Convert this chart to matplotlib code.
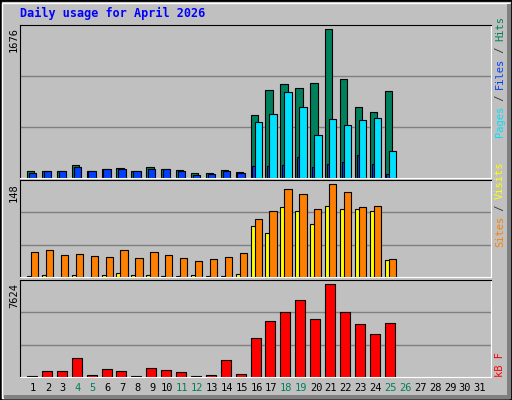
import matplotlib
matplotlib.use("Agg")
import matplotlib.pyplot as plt
from matplotlib.patches import Rectangle

days = list(range(1, 32))
hits  = [76,76,76,144,76,99,110,76,121,99,87,53,53,87,64,713,997,1054,1009,1066,1676,1111,804,747,975]
files = [61,76,76,129,76,99,99,76,106,99,83,38,46,83,53,133,133,144,235,121,155,178,258,155,42]
pages = [0]*15 + [629,720,971,800,482,664,595,652,675,300]
visits = [40,43,35,37,34,32,43,31,40,35,31,26,29,32,39,93,105,140,132,109,148,135,111,114,29]
sites  = [1.6,3,0,3,0,3,6,3,3,1.6,1.6,3,1.6,1.6,5,82,71,111,106,85,114,108,109,106,27]
kbytes = [111,529,529,1531,195,696,529,111,779,612,445,111,195,1364,278,3200,4620,5371,6373,4787,7624,5371,4369,3534,4453]
weekend = [4,5,11,12,18,19,25,26]
title = "Daily usage for April 2026"

W, H = 512, 400
fig = plt.figure(figsize=(W/100, H/100), dpi=100, facecolor="#C0C0C0")
mono = "DejaVu Sans Mono"

# outer bevel
fig.add_artist(Rectangle((0, 0), 1, 1, transform=fig.transFigure, fill=False, ec="black", lw=2))
fig.add_artist(Rectangle((2/W, 2/H), 1-5/W, 1-5/H, transform=fig.transFigure, fill=False, ec="white", lw=1))
fig.add_artist(Rectangle((4/W, 1/H), 1-5/W, 4/H, transform=fig.transFigure, color="#808080", lw=0))
fig.add_artist(Rectangle((1-5/W, 1/H), 4/W, 1-5/H, transform=fig.transFigure, color="#808080", lw=0))

def mkax(top, bot, ymax):
    ax = fig.add_axes([20/W, 1-bot/H, 471/W, (bot-top)/H])
    ax.set_facecolor("#C0C0C0")
    ax.set_xlim(0.128, 31.74)
    ax.set_ylim(0, ymax)
    for g in (ymax/3, 2*ymax/3):
        ax.axhline(g, color="#808080", lw=1, zorder=0)
    ax.set_xticks([]); ax.set_yticks([])
    ax.spines["left"].set_color("black"); ax.spines["top"].set_color("black")
    ax.spines["right"].set_color("white"); ax.spines["bottom"].set_color("white")
    return ax

kw = dict(edgecolor="black", linewidth=0.8, align="edge")
ax1 = mkax(25, 178, 1724)
d = days[:len(hits)]
ax1.bar([x-0.4 for x in d], hits, width=0.5, color="#00805C", **kw)
ax1.bar([x-0.28 for x in d], files, width=0.55 if False else 0.5, color="#0040FF", **kw)
ax1.bar([x-0.13 for x in d], pages, width=0.5, color="#00E0FF",
        **{**kw, "edgecolor": ["black" if p > 0 else "none" for p in pages]})

ax2 = mkax(180, 277, 154.9)
ax2.bar([x-0.4 for x in d], sites, width=0.45, color="#FFFF00", **kw)
ax2.bar([x-0.13 for x in d], visits, width=0.49, color="#FF8000", **kw)

ax3 = mkax(280, 377, 7977)
ax3.bar([x-0.4 for x in d], kbytes, width=0.67, color="#FF0000", **kw)

for x in days:
    px = 20 + (x-0.128)/(31.74-0.128)*471
    fig.text(px/W, 1-388/H, str(x), ha="center", va="center", family=mono, fontsize=7.5,
             color="#00805C" if x in weekend else "black")

fig.text(20/W, 1-13/H, title, ha="left", va="center", family=mono, fontsize=8.5,
         weight="bold", color="#0000FF")
for ytop, lab in ((27, "1676"), (183, "148"), (283, "7624")):
    fig.text(14/W, 1-ytop/H, lab, rotation=90, ha="center", va="top", family=mono, fontsize=7.5)

def rlabel(ybottom, parts, fs=7.5):
    y = ybottom
    ch = 6.0
    for txt, col in parts:
        fig.text(500/W, 1-y/H, txt, rotation=90, ha="center", va="bottom", family=mono,
                 fontsize=fs, color=col)
        y -= ch*len(txt)

rlabel(137, [("Pages", "#00E0FF"), (" / ", "#333333"), ("Files", "#0040FF"),
             (" / ", "#333333"), ("Hits", "#00805C")])
rlabel(247, [("Sites", "#FF8000"), (" / ", "#333333"), ("Visits", "#FFFF00")])
rlabel(377, [("kB F", "#FF0000")])

fig.savefig("out.png", dpi=100, facecolor=fig.get_facecolor())
